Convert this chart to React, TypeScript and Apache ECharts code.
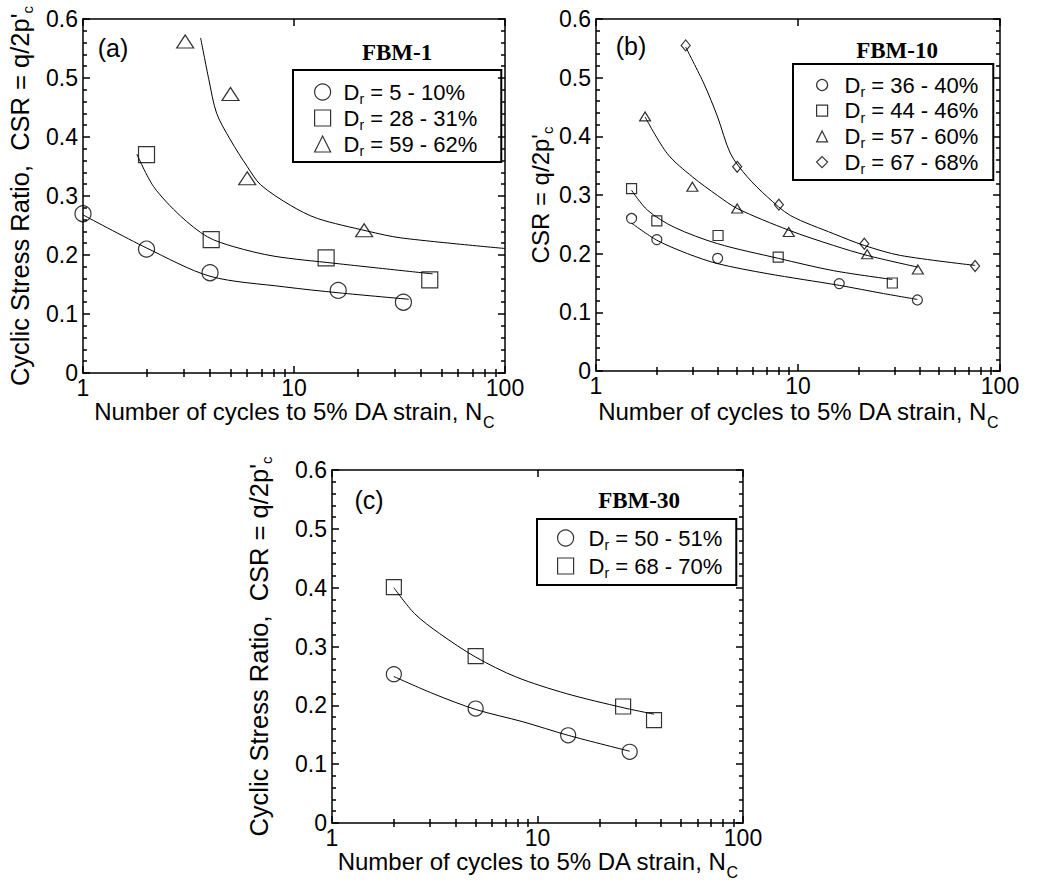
import React, { useEffect, useRef } from "react";
import * as echarts from "echarts";

const FONT = "'Liberation Sans', Arial, Helvetica, sans-serif";
const SERIF = "'Liberation Serif', 'Times New Roman', serif";

// ---- axis ticks ----
const X_MAJOR = [1, 10, 100];
const X_MINOR = [2, 3, 4, 5, 6, 7, 8, 9, 20, 30, 40, 50, 60, 70, 80, 90];

// ---- Panel (a) FBM-1 ----
const aCircleN = [1, 2, 4, 16.2, 33];
const aCircleCSR = [0.27, 0.21, 0.17, 0.14, 0.12];
const aCircleFitN = [1, 2, 4, 9, 16.2, 35];
const aCircleFitCSR = [0.268, 0.212, 0.164, 0.146, 0.136, 0.125];

const aSquareN = [2, 4.05, 14.2, 44];
const aSquareCSR = [0.37, 0.226, 0.195, 0.158];
const aSquareFitN = [1.8, 2.16, 2.9, 3.88, 5.19, 8.04, 15.5, 45.4];
const aSquareFitCSR = [0.371, 0.316, 0.266, 0.231, 0.214, 0.198, 0.186, 0.168];

const aTriN = [3.05, 5.0, 6.0, 21.5];
const aTriCSR = [0.562, 0.473, 0.33, 0.242];
const aTriFitN = [3.61, 3.95, 4.3, 5.0, 6.0, 6.95, 9.64, 12.9, 22.3, 32.1, 100];
const aTriFitCSR = [0.568, 0.497, 0.44, 0.395, 0.35, 0.319, 0.284, 0.262, 0.2405, 0.229, 0.211];

// ---- Panel (b) FBM-10 ----
const bCircleN = [1.5, 2.0, 4.0, 16.0, 39];
const bCircleCSR = [0.26, 0.224, 0.192, 0.149, 0.121];
const bCircleFitN = [1.5, 2.0, 2.84, 4.0, 7.04, 16, 26.5, 39];
const bCircleFitCSR = [0.252, 0.223, 0.2, 0.183, 0.166, 0.146, 0.132, 0.122];

const bSquareN = [1.5, 2.0, 4.02, 7.98, 29.3];
const bSquareCSR = [0.311, 0.256, 0.231, 0.194, 0.15];
const bSquareFitN = [1.5, 1.8, 2.44, 4.0, 8.0, 15.0, 29.3];
const bSquareFitCSR = [0.308, 0.274, 0.245, 0.217, 0.192, 0.171, 0.156];

const bTriN = [1.75, 3.0, 5.0, 9.0, 22.0, 39.2];
const bTriCSR = [0.434, 0.314, 0.277, 0.237, 0.199, 0.173];
const bTriFitN = [1.75, 2.26, 3.0, 4.0, 5.0, 9.0, 15, 22, 39.2];
const bTriFitCSR = [0.433, 0.37, 0.331, 0.299, 0.277, 0.24, 0.214, 0.197, 0.177];

const bDiaN = [2.78, 5.0, 8.04, 21.3, 75.3];
const bDiaCSR = [0.555, 0.348, 0.2835, 0.217, 0.179];
const bDiaFitN = [2.78, 3.43, 4.0, 4.64, 5.61, 7.04, 9.18, 15.0, 21.3, 32.1, 75.3];
const bDiaFitCSR = [0.552, 0.489, 0.433, 0.37, 0.331, 0.297, 0.265, 0.234, 0.214, 0.197, 0.18];

// ---- Panel (c) FBM-30 ----
const cCircleN = [2.0, 5.0, 14.1, 28.1];
const cCircleCSR = [0.253, 0.1945, 0.149, 0.121];
const cCircleFitN = [2.0, 3.1, 5.0, 8.5, 14.1, 28.1];
const cCircleFitCSR = [0.249, 0.22, 0.193, 0.172, 0.149, 0.122];

const cSquareN = [2.0, 5.0, 26.1, 36.9];
const cSquareCSR = [0.401, 0.2835, 0.198, 0.175];
const cSquareFitN = [2.0, 2.52, 3.34, 5.0, 7.89, 13.8, 26.1, 36.9];
const cSquareFitCSR = [0.4, 0.356, 0.322, 0.282, 0.248, 0.22, 0.196, 0.185];

// ---- labels ----
const aNames = ["Dr = 5 - 10%", "Dr = 28 - 31%", "Dr = 59 - 62%"];
const bNames = ["Dr = 36 - 40%", "Dr = 44 - 46%", "Dr = 57 - 60%", "Dr = 67 - 68%"];
const cNames = ["Dr = 50 - 51%", "Dr = 68 - 70%"];

const zip = (xs: number[], ys: number[]) => xs.map((x, i) => [x, ys[i]]);

function legendRich(lead: number): any {
  return {
    d: { fontSize: 22, lineHeight: 22, verticalAlign: "top", fontFamily: FONT, color: "#000", padding: [0, 0, 0, lead] },
    m: { fontSize: 22, lineHeight: 22, verticalAlign: "top", fontFamily: FONT, color: "#000" },
    s: { fontSize: 14, lineHeight: 14, padding: [11, 0, 0, 0], verticalAlign: "top", fontFamily: FONT, color: "#000" },
  };
}
function axisRich(size: number): any {
  return {
    m: { fontSize: size, lineHeight: size, verticalAlign: "top", fontFamily: FONT, color: "#000" },
    s: { fontSize: 15, lineHeight: 15, padding: [Math.round(size / 2), 0, 0, 0], verticalAlign: "top", fontFamily: FONT, color: "#000" },
    n: { fontSize: 16, lineHeight: 16, padding: [15, 0, 0, 0], verticalAlign: "top", fontFamily: FONT, color: "#000" },
  };
}

type SetDef = { name: string; symbol: string; size: any; n: number[]; csr: number[]; fitN: number[]; fitCsr: number[] };
type Panel = {
  grid: { left: number; top: number; width: number; height: number };
  yName: string;
  yFont: number;
  yGap: number;
  xGap: number;
  sets: SetDef[];
  legend: { left: number; top: number; padding: number[]; icon: number; lead: number; itemGap: number };
  tag: { text: string; x: number; y: number };
  title: { text: string; x: number; y: number };
};

const panels: Panel[] = [
  {
    grid: { left: 83, top: 19, width: 422, height: 354 },
    yName: "{m|Cyclic Stress Ratio,  CSR = q/2p'}{s|c}",
    yFont: 25.5,
    yGap: 51,
    xGap: 26,
    sets: [
      { name: aNames[0], symbol: "circle", size: 16, n: aCircleN, csr: aCircleCSR, fitN: aCircleFitN, fitCsr: aCircleFitCSR },
      { name: aNames[1], symbol: "rect", size: 16, n: aSquareN, csr: aSquareCSR, fitN: aSquareFitN, fitCsr: aSquareFitCSR },
      { name: aNames[2], symbol: "triangle", size: [17, 13], n: aTriN, csr: aTriCSR, fitN: aTriFitN, fitCsr: aTriFitCSR },
    ],
    legend: { left: 293, top: 70, padding: [11, 24, 4, 21], icon: 16, lead: 8, itemGap: 1 },
    tag: { text: "(a)", x: 113, y: 48 },
    title: { text: "FBM-1", x: 397, y: 52 },
  },
  {
    grid: { left: 596, top: 19, width: 404, height: 352 },
    yName: "{m|CSR = q/2p'}{s|c}",
    yFont: 24,
    yGap: 37,
    xGap: 28,
    sets: [
      { name: bNames[0], symbol: "circle", size: 10, n: bCircleN, csr: bCircleCSR, fitN: bCircleFitN, fitCsr: bCircleFitCSR },
      { name: bNames[1], symbol: "rect", size: 10, n: bSquareN, csr: bSquareCSR, fitN: bSquareFitN, fitCsr: bSquareFitCSR },
      { name: bNames[2], symbol: "triangle", size: [11, 9], n: bTriN, csr: bTriCSR, fitN: bTriFitN, fitCsr: bTriFitCSR },
      { name: bNames[3], symbol: "diamond", size: [9, 11], n: bDiaN, csr: bDiaCSR, fitN: bDiaFitN, fitCsr: bDiaFitCSR },
    ],
    legend: { left: 793, top: 64, padding: [10, 15, 4, 23], icon: 11, lead: 12, itemGap: 0.7 },
    tag: { text: "(b)", x: 631, y: 46 },
    title: { text: "FBM-10", x: 897, y: 50 },
  },
  {
    grid: { left: 332, top: 470, width: 411, height: 353 },
    yName: "{m|Cyclic Stress Ratio,  CSR = q/2p'}{s|c}",
    yFont: 25.5,
    yGap: 61,
    xGap: 25,
    sets: [
      { name: cNames[0], symbol: "circle", size: 15, n: cCircleN, csr: cCircleCSR, fitN: cCircleFitN, fitCsr: cCircleFitCSR },
      { name: cNames[1], symbol: "rect", size: 15, n: cSquareN, csr: cSquareCSR, fitN: cSquareFitN, fitCsr: cSquareFitCSR },
    ],
    legend: { left: 537, top: 519, padding: [8, 14, 5, 20], icon: 16, lead: 10, itemGap: 3 },
    tag: { text: "(c)", x: 369, y: 500 },
    title: { text: "FBM-30", x: 639, y: 500 },
  },
];

const black = "#000";

function buildOption() {
  const grid: any[] = [];
  const xAxis: any[] = [];
  const yAxis: any[] = [];
  const series: any[] = [];
  const legend: any[] = [];
  const graphic: any[] = [];

  panels.forEach((p, gi) => {
    grid.push({ ...p.grid });
    const xBase = { type: "log", gridIndex: gi, min: 1, max: 100, splitLine: { show: false } };
    const frame = { show: true, onZero: false, lineStyle: { color: black, width: 1.5 } };
    const tickStyle = { color: black, width: 1.5 };
    xAxis.push({
      ...xBase,
      position: "bottom",
      axisLine: frame,
      axisTick: { show: true, inside: true, length: 7, customValues: X_MAJOR, lineStyle: tickStyle },
      axisLabel: { show: true, customValues: X_MAJOR, color: black, fontSize: 23, fontFamily: FONT, margin: 3 },
      name: "{m|Number of cycles to 5% DA strain, N}{n|C}",
      nameLocation: "middle",
      nameGap: p.xGap,
      nameTextStyle: { rich: axisRich(24) },
    });
    xAxis.push({
      ...xBase,
      position: "bottom",
      axisLine: { show: false },
      axisTick: { show: true, inside: true, length: 4, customValues: X_MINOR, lineStyle: tickStyle },
      axisLabel: { show: false },
    });
    xAxis.push({
      ...xBase,
      position: "top",
      axisLine: frame,
      axisTick: { show: true, inside: true, length: 7, customValues: X_MAJOR, lineStyle: tickStyle },
      axisLabel: { show: false },
    });
    xAxis.push({
      ...xBase,
      position: "top",
      axisLine: { show: false },
      axisTick: { show: true, inside: true, length: 4, customValues: X_MINOR, lineStyle: tickStyle },
      axisLabel: { show: false },
    });

    const yBase = {
      type: "value",
      gridIndex: gi,
      min: 0,
      max: 0.6,
      interval: 0.1,
      splitLine: { show: false },
      axisLine: frame,
      axisTick: { show: true, inside: true, length: 7, lineStyle: tickStyle },
      minorTick: { show: true, splitNumber: 5, length: 4, lineStyle: tickStyle },
    };
    yAxis.push({
      ...yBase,
      position: "left",
      axisLabel: { show: true, color: black, fontSize: 23, fontFamily: FONT, margin: 5 },
      name: p.yName,
      nameLocation: "middle",
      nameGap: p.yGap,
      nameTextStyle: { rich: axisRich(p.yFont) },
    });
    yAxis.push({ ...yBase, position: "right", axisLabel: { show: false } });

    p.sets.forEach((s) => {
      series.push({
        type: "line",
        xAxisIndex: gi * 4,
        yAxisIndex: gi * 2,
        data: zip(s.fitN, s.fitCsr),
        symbol: "none",
        showSymbol: false,
        smooth: 0.3,
        silent: true,
        lineStyle: { color: black, width: 1 },
        z: 2,
      });
      series.push({
        type: "scatter",
        name: s.name,
        xAxisIndex: gi * 4,
        yAxisIndex: gi * 2,
        data: zip(s.n, s.csr),
        symbol: s.symbol,
        symbolSize: s.size,
        itemStyle: { color: "rgba(0,0,0,0)", borderColor: black, borderWidth: 1.2 },
        z: 3,
      });
    });

    legend.push({
      show: true,
      data: p.sets.map((s) => s.name),
      orient: "vertical",
      left: p.legend.left,
      top: p.legend.top,
      padding: p.legend.padding,
      itemWidth: p.legend.icon,
      itemHeight: p.legend.icon,
      itemGap: p.legend.itemGap,
      borderColor: black,
      borderWidth: 2,
      borderRadius: 0,
      selectedMode: false,
      itemStyle: { color: "rgba(0,0,0,0)", borderColor: black, borderWidth: 1.2 },
      formatter: (name: string) => `{d|D}{s|r}{m|${name.slice(2)}}`,
      textStyle: { rich: legendRich(p.legend.lead) },
    });

    graphic.push({
      type: "text",
      x: p.tag.x,
      y: p.tag.y,
      style: { text: p.tag.text, fontSize: 25, fontFamily: FONT, fill: black, align: "center", verticalAlign: "middle" },
    });
    graphic.push({
      type: "text",
      x: p.title.x,
      y: p.title.y,
      style: { text: p.title.text, fontSize: 23, fontWeight: "bold", fontFamily: SERIF, fill: black, align: "center", verticalAlign: "middle" },
    });
  });

  return { animation: false, backgroundColor: "#fff", grid, xAxis, yAxis, series, legend, graphic };
}

export default function App() {
  const ref = useRef<HTMLDivElement>(null);
  useEffect(() => {
    if (!ref.current) return;
    const chart = echarts.init(ref.current, undefined, { renderer: "svg" });
    chart.setOption(buildOption() as any);
    return () => chart.dispose();
  }, []);
  return (
    <div
      ref={ref}
      style={{ position: "fixed", left: 0, top: 0, width: 1043, height: 882, background: "#fff" }}
    />
  );
}
